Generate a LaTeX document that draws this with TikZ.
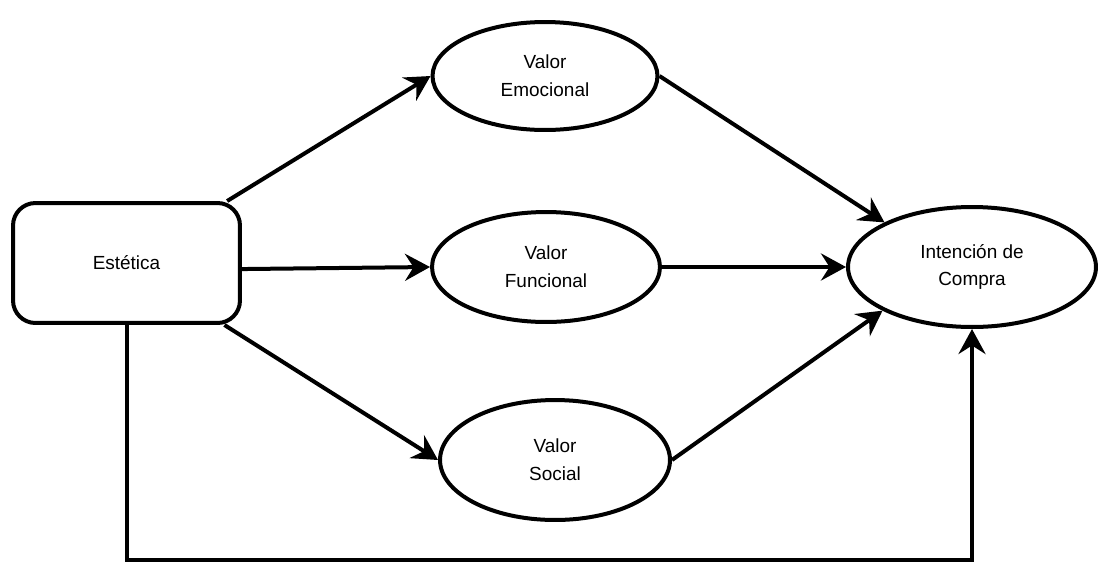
\documentclass[tikz,border=0pt]{standalone}
\usepackage{fontspec}
\setmainfont{Liberation Sans}
\usetikzlibrary{shapes.geometric,arrows.meta}

\begin{document}
\begin{tikzpicture}[x=0.02cm, y=-0.02cm,
    box/.style={draw, line width=0.08cm, rounded corners=0.45cm, minimum width=4.54cm, minimum height=2.4cm, inner sep=0pt, font=\fontsize{10.8}{15.9}\selectfont},
    valor/.style={draw, ellipse, line width=0.08cm, inner sep=0pt, align=center, font=\fontsize{10.8}{15.9}\selectfont},
    link/.style={line width=0.08cm, -{Stealth[length=0.5cm, width=0.54cm, inset=0.17cm]}}]
    \useasboundingbox (0,0) rectangle (1099,562);

    % Constructs
    \node[box] (est) at (126.5,263) {Estética};
    \node[valor, minimum width=4.5cm, minimum height=2.16cm] (emo) at (545,76) {Valor\\Emocional};
    \node[valor, minimum width=4.56cm, minimum height=2.2cm] (fun) at (546,267) {Valor\\Funcional};
    \node[valor, minimum width=4.6cm, minimum height=2.4cm] (soc) at (555,460) {Valor\\Social};
    \node[valor, minimum width=4.96cm, minimum height=2.4cm] (int) at (972,267) {Intención de\\Compra};
    \coordinate (bot) at (972,560);

    % Paths
    \draw[link] (est) -- (emo.west);
    \draw[link] (est.-3) -- (fun.west);
    \draw[link] (est) -- (soc.west);
    \draw[link] (emo.east) -- (int.153);
    \draw[link] (fun.east) -- (int.west);
    \draw[link] (soc.east) -- (int.206);
    \draw[link] (est.south) |- (bot) -- (int.south);
\end{tikzpicture}
\end{document}
